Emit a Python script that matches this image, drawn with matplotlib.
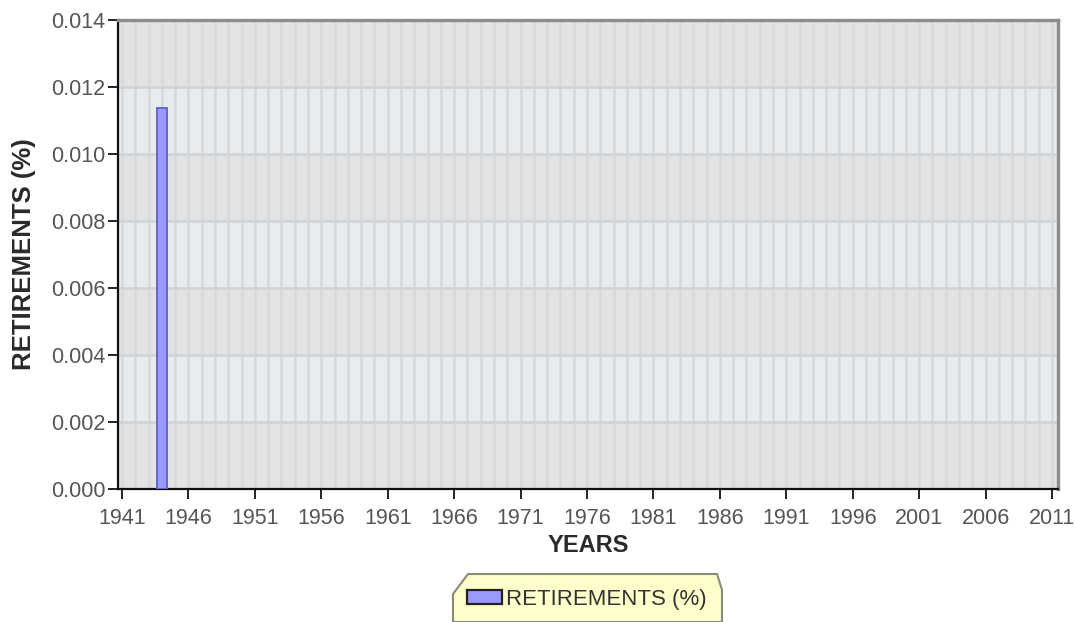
import matplotlib
matplotlib.use("Agg")
from matplotlib import pyplot as plt
from matplotlib.patches import Polygon

# data
years = [1944]
retirements = [0.01137]
tick_years = list(range(1941, 2012, 5))
y_ticks = [0.000, 0.002, 0.004, 0.006, 0.008, 0.010, 0.012, 0.014]

plt.rcParams['font.family'] = ['Liberation Sans', 'DejaVu Sans']

W, H = 1075, 622
fig = plt.figure(figsize=(W / 100, H / 100), dpi=100)
ax = fig.add_axes([118 / W, 1 - 489 / H, (1058 - 118) / W, (489 - 20) / H])

# alternating horizontal bands
band_colors = ["#e3e3e3", "#e8ecef"]
for i in range(len(y_ticks) - 1):
    ax.axhspan(y_ticks[i], y_ticks[i + 1], color=band_colors[i % 2], zorder=0, lw=0)

# vertical grid line every year, horizontal grid at ticks
for yr in range(1941, 2012):
    ax.axvline(yr, color="#d6d9dc", lw=1.8, zorder=1)
for v in y_ticks[1:-1]:
    ax.axhline(v, color="#d2d5d8", lw=2.0, zorder=1)

ax.bar(years, retirements, width=0.8, color="#9999ff", edgecolor="#5f5fc4",
       linewidth=1.3, zorder=3, label="RETIREMENTS (%)")

ax.set_xlim(1940.7, 2011.45)
ax.set_ylim(0, 0.014)
ax.set_xticks(tick_years)
ax.set_yticks(y_ticks)
ax.set_yticklabels([f"{v:.3f}" for v in y_ticks])
ax.tick_params(axis="both", direction="out", length=7, width=1.4, color="#222222",
               labelsize=15.5, labelcolor="#555555")
ax.tick_params(axis="x", pad=7)
ax.tick_params(axis="y", pad=2)

for s in ["left", "bottom"]:
    ax.spines[s].set_color("#111111")
    ax.spines[s].set_linewidth(1.6)
for s in ["top", "right"]:
    ax.spines[s].set_color("#8c8c8c")
    ax.spines[s].set_linewidth(2.4)

ax.set_xlabel("YEARS", fontsize=17, fontweight="bold", color="#2a2a2a", labelpad=3)
ax.set_ylabel("RETIREMENTS (%)", fontsize=18.5, fontweight="bold", color="#2a2a2a",
              labelpad=11)

# beveled yellow legend box
pts = [(453, 622), (453, 594), (468, 574), (717, 574), (722, 590), (722, 622)]
fig.patches.append(Polygon([(x / W, 1 - y / H) for x, y in pts], closed=True,
                           transform=fig.transFigure, facecolor="#ffffcc",
                           edgecolor="#8a8a7a", linewidth=1.5, zorder=0))
leg = fig.legend(loc="center", bbox_to_anchor=(587 / W, 1 - 599 / H), frameon=False,
                 fontsize=16, handlelength=1.55, handleheight=0.6, handletextpad=0.2,
                 borderpad=0)
for t in leg.get_texts():
    t.set_color("#333333")
for h in leg.legend_handles:
    h.set_edgecolor("#222222")
    h.set_linewidth(1.6)

fig.savefig("out.png", dpi=100)
